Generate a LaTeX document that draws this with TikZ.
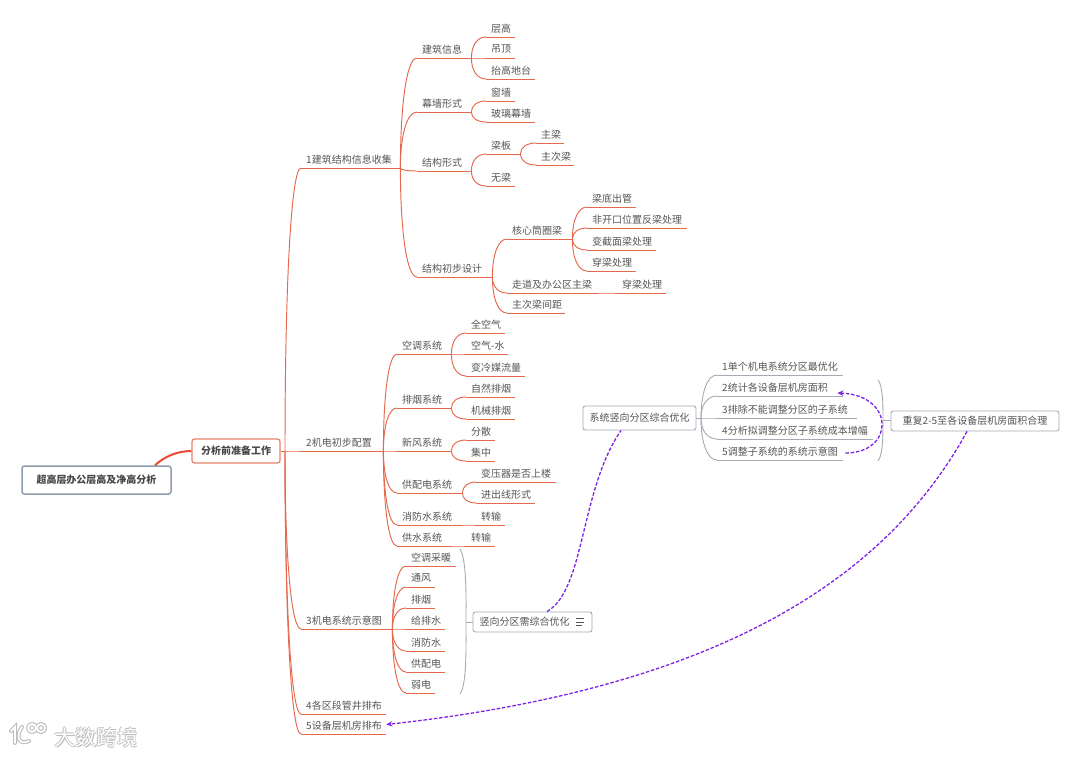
\documentclass[tikz,border=0pt]{standalone}
\usepackage{fontspec}
\setmainfont{Noto Sans CJK SC}
\usetikzlibrary{calc,arrows.meta}
\definecolor{tx}{HTML}{555555}
\definecolor{br}{HTML}{E4694C}
\definecolor{gr}{HTML}{A3ABB5}
\definecolor{pu}{HTML}{7F22E6}
\definecolor{rootc}{HTML}{8C9BAD}
\definecolor{wm}{HTML}{BDBDBD}
\tikzset{
 x=1pt,y=-1pt,
 branch/.style={draw=br,line width=0.95pt},
 greyb/.style={draw=gr,line width=0.9pt},
 topic/.style={inner sep=0pt,minimum height=17pt,anchor=south west,text=tx,font=\fontsize{10}{12}\selectfont},
 boxa/.style={draw=gr,line width=0.9pt,rounded corners=2.5pt,fill=white,text=tx,inner sep=0pt,font=\fontsize{10}{12}\selectfont},
 rel/.style={draw=pu,line width=1.3pt,dash pattern=on 3.5pt off 1.8pt},
 relarrow/.style={rel,-{Stealth[length=6pt,width=5.5pt,fill=pu]}},
 wmtext/.style={inner sep=0pt,font=\fontsize{21}{24}\selectfont},
 wmback/.style={draw=wm,line width=4pt,line cap=round},
 wmfront/.style={draw=white,line width=1.8pt,line cap=round},
}
% name, parent point, x0, x1, y, text
\newcommand{\tp}[7][branch]{%
 \pgfmathsetmacro{\tw}{#5-#4-5}%
 \node[topic] (#2) at (#4,#6) {\hspace{5pt}\makebox[\tw pt][l]{#7}};
 \draw[#1] (#2.south west) -- (#2.south east);
 \draw[#1] (#3) .. controls ($(#3)!0.6!(#3 |- #2.south west)$) and ($(#3 |- #2.south west)!0.4!(#2.south west)$) .. (#2.south west);
}
\begin{document}
\begin{tikzpicture}
\useasboundingbox (0,0) rectangle (1080,756);
% watermark
\foreach \sty in {wmback,wmfront}{
 \draw[\sty] (11,731) -- (15,727) -- (15,743);
 \draw[\sty] (29,741) .. controls (19,746) and (15,736) .. (22,727);
 \draw[\sty] (32,728) circle (4);
 \draw[\sty] (41,728) circle (4);
}
\foreach \dx/\dy in {-0.8/0,0.8/0,0/-0.8,0/0.8,1/1}{
 \node[wmtext,text=wm] at (96+\dx,737+\dy) {大数跨境};
}
\node[wmtext,text=white] (wmark) at (96,737) {大数跨境};
% root
\node[draw=rootc,line width=1.5pt,rounded corners=2.5pt,minimum width=149pt,minimum height=28pt,inner sep=0pt,text=tx!85!black,font=\fontsize{10}{12}\selectfont\bfseries] (root) at (96.5,480) {超高层办公层高及净高分析};
\node[draw=br!85,line width=1.2pt,rounded corners=2.5pt,minimum width=88pt,minimum height=24pt,inner sep=0pt,text=tx!85!black,font=\fontsize{10}{12}\selectfont\bfseries] (main) at (236,451) {分析前准备工作};
\draw[draw=br!70!red,line width=2pt] (root.north -| 155,466) .. controls (165,456) and (178,451) .. (main.west);
\coordinate (trunk) at (285,451);
\draw[branch] (main.east) -- (trunk);
% level 1
\tp{a}{trunk}{301}{400}{168}{1建筑结构信息收集}
\tp{b}{trunk}{301}{383}{451}{2机电初步配置}
\tp{c}{trunk}{301}{392}{629}{3机电系统示意图}
\tp{d}{trunk}{301}{386}{714}{4各区段管井排布}
\tp{e}{trunk}{301}{386}{734}{5设备层机房排布}
% 1
\tp{a1}{a.south east}{417}{471}{58}{建筑信息}
\tp{a2}{a.south east}{417}{471}{112}{幕墙形式}
\tp{a3}{a.south east}{417}{471}{171}{结构形式}
\tp{a4}{a.south east}{417}{492}{277}{结构初步设计}
\tp{a11}{a1.south east}{486}{515}{37}{层高}
\tp{a12}{a1.south east}{486}{515}{58}{吊顶}
\tp{a13}{a1.south east}{486}{535}{79}{抬高地台}
\tp{a21}{a2.south east}{486}{515}{101}{窗墙}
\tp{a22}{a2.south east}{486}{535}{122}{玻璃幕墙}
\tp{a31}{a3.south east}{486}{520}{154}{梁板}
\tp{a32}{a3.south east}{486}{515}{186}{无梁}
\tp{a311}{a31.south east}{536}{564}{143}{主梁}
\tp{a312}{a31.south east}{536}{574}{165}{主次梁}
\tp{a41}{a4.south east}{507}{572}{239}{核心筒圈梁}
\tp{a42}{a4.south east}{507}{597}{293}{走道及办公区主梁}
\tp{a43}{a4.south east}{507}{565}{313}{主次梁间距}
\tp{a411}{a41.south east}{587}{636}{207}{梁底出管}
\tp{a412}{a41.south east}{587}{687}{228}{非开口位置反梁处理}
\tp{a413}{a41.south east}{587}{656}{250}{变截面梁处理}
\tp{a414}{a41.south east}{587}{636}{271}{穿梁处理}
\tp{a421}{a42.south east}{617}{666}{293}{穿梁处理}
% 2
\tp{b1}{b.south east}{397}{451}{354}{空调系统}
\tp{b2}{b.south east}{397}{451}{408}{排烟系统}
\tp{b3}{b.south east}{397}{451}{451}{新风系统}
\tp{b4}{b.south east}{397}{462}{493}{供配电系统}
\tp{b5}{b.south east}{397}{462}{525}{消防水系统}
\tp{b6}{b.south east}{397}{451}{546}{供水系统}
\tp{b11}{b1.south east}{466}{505}{333}{全空气}
\tp{b12}{b1.south east}{466}{508}{354}{空气-水}
\tp{b13}{b1.south east}{466}{525}{376}{变冷媒流量}
\tp{b21}{b2.south east}{466}{515}{397}{自然排烟}
\tp{b22}{b2.south east}{466}{515}{419}{机械排烟}
\tp{b31}{b3.south east}{466}{495}{440}{分散}
\tp{b32}{b3.south east}{466}{495}{461}{集中}
\tp{b41}{b4.south east}{476}{556}{482}{变压器是否上楼}
\tp{b42}{b4.south east}{476}{535}{503}{进出线形式}
\tp{b51}{b5.south east}{476}{505}{525}{转输}
\tp{b61}{b6.south east}{466}{495}{546}{转输}
% 3
\tp{c1}{c.south east}{406}{456}{566}{空调采暖}
\tp{c2}{c.south east}{406}{435}{587}{通风}
\tp{c3}{c.south east}{406}{435}{608}{排烟}
\tp{c4}{c.south east}{406}{445}{629}{给排水}
\tp{c5}{c.south east}{406}{445}{651}{消防水}
\tp{c6}{c.south east}{406}{445}{672}{供配电}
\tp{c7}{c.south east}{406}{435}{693}{弱电}
% summary 1
\coordinate (s1a) at (460,549);
\coordinate (s1b) at (460,694);
\coordinate (s1m) at (466,622);
\draw[greyb] (s1a) .. controls (467,560) and (466,600) .. (s1m) .. controls (466,645) and (467,685) .. (s1b);
\node[boxa,minimum width=119pt,minimum height=20pt] (sum1) at (532.5,622) {\hspace{-16pt}竖向分区需综合优化};
\draw[greyb] (s1m) -- (sum1.west);
\draw[tx,line width=0.8pt] (576,618) -- (584,618) (576,622) -- (584,622) (576,625.5) -- (582,625.5);
% optimisation
\node[boxa,minimum width=113pt,minimum height=24pt] (opt) at (639.5,418) {系统竖向分区综合优化};
\coordinate (oj) at (701,418);
\draw[greyb] (opt.east) -- (oj);
\tp[greyb]{o1}{oj}{717}{843}{375}{1单个机电系统分区最优化}
\tp[greyb]{o2}{oj}{717}{843}{396}{2统计各设备层机房面积}
\tp[greyb]{o3}{oj}{717}{857}{418}{3排除不能调整分区的子系统}
\tp[greyb]{o4}{oj}{717}{873}{439}{4分析拟调整分区子系统成本增幅}
\tp[greyb]{o5}{oj}{717}{843}{460}{5调整子系统的系统示意图}
\coordinate (s2a) at (878,380);
\coordinate (s2b) at (878,461);
\coordinate (s2m) at (883,420);
\draw[greyb] (s2a) .. controls (883,386) and (883,405) .. (s2m) .. controls (883,435) and (883,455) .. (s2b);
\node[boxa,minimum width=168pt,minimum height=20pt] (rep) at (975,421) {重复2-5至各设备层机房面积合理};
\draw[greyb] (s2m) -- (rep.west |- s2m);
% relations
\draw[rel] (sum1.north -| 547,611) .. controls (585,590) and (580,490) .. (opt.south -| 621,430);
\draw[relarrow] (rep.south -| 967,431) .. controls (880,590) and (700,690) .. (e.east |- 388,724.5);
\draw[relarrow] ($(o5.south east)+(2,-7)$) .. controls (895,453) and (895,395) .. ($(o2.south east)+(-6,-3)$);
\end{tikzpicture}
\end{document}
